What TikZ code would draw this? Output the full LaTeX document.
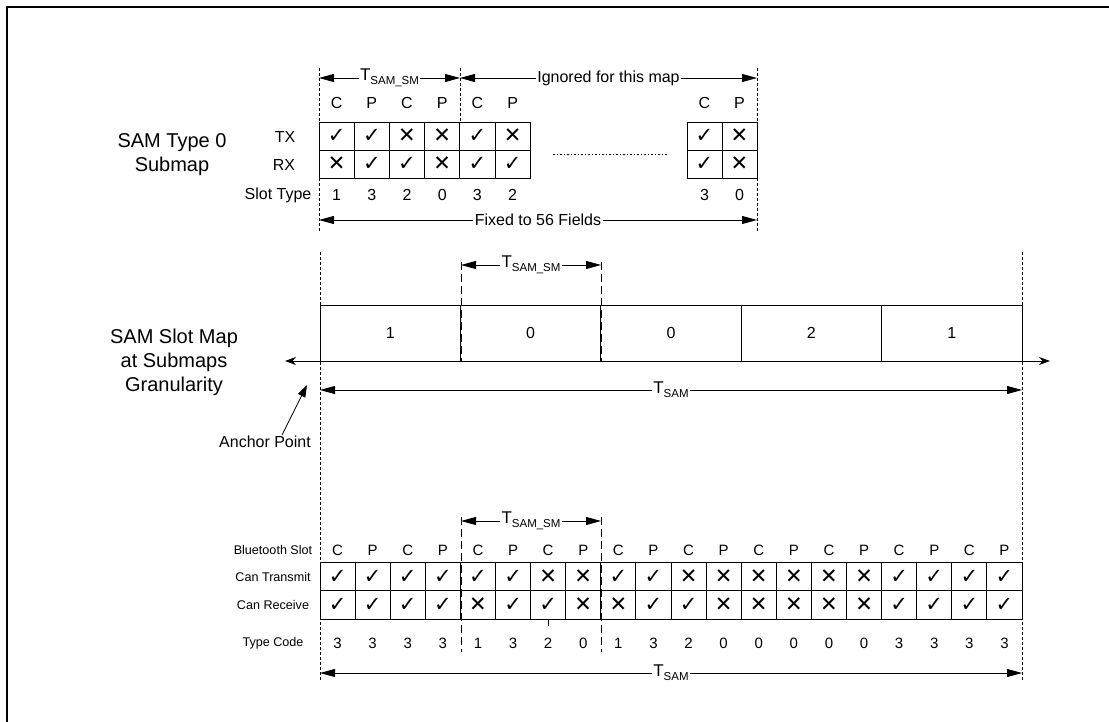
\documentclass[tikz,border=0pt]{standalone}
\usepackage{fontspec}
\setmainfont{Liberation Sans}
\newfontfamily\symfont{DejaVu Sans}
\usetikzlibrary{positioning,arrows.meta,calc}

\newcommand{\chk}{✓}
\newcommand{\crs}{✕}
\newcommand{\tsub}[1]{{\fontsize{17}{18}\selectfont T}\raisebox{-0.5ex}{\fontsize{11.5}{12}\selectfont #1}}

\begin{document}
\begin{tikzpicture}[x=1pt, y=-1pt,
  every node/.style={font=\fontsize{16}{19}\selectfont, inner sep=1pt},
  dim/.style={{Triangle[length=15pt,width=8pt]}-{Triangle[length=15pt,width=8pt]}, line width=0.8pt},
  guide/.style={dash pattern=on 3pt off 2pt, line width=0.7pt},
  bound/.style={dash pattern=on 8pt off 4pt, line width=0.9pt},
  cell/.style={draw, line width=0.9pt, minimum width=35.1pt, minimum height=28pt, inner sep=0pt,
    font=\symfont\bfseries\fontsize{21}{21}\selectfont},
  gap/.style={fill=white, inner sep=1.5pt},
  small/.style={font=\fontsize{12.6}{14}\selectfont},
  big/.style={font=\fontsize{20}{24}\selectfont, align=center}]
\useasboundingbox (0,0) rectangle (1109,722);
\draw[line width=2.5pt] (7,722) -- (7,7) -- (1109,7); % frame

% ---- SAM type 0 submap
\node[big] (subname) at (172,155) {SAM Type 0\\Submap};
\node (txl) at (285,137) {TX};
\node (rxl) at (284,165) {RX};
\node (stl) at (278,195) {Slot Type};

\coordinate (sa) at (319,68);  \coordinate (sb) at (319,232);
\coordinate (sc) at (460,68);  \coordinate (sd) at (460,122);
\coordinate (se) at (757,68);  \coordinate (sf) at (757,232);
\draw[guide] (sa) -- (sb);
\draw[guide] (sc) -- (sd);
\draw[guide] (se) -- (sf);
\draw[dim] (319,78) -- (460,78) node[midway, gap] (tsmA) {\tsub{SAM\_SM}};
\draw[dim] (460,78) -- (757,78) node[midway, gap] (ign) {Ignored for this map};

\foreach \a/\b/\c [count=\i] in {\chk/\crs/1, \chk/\chk/3, \crs/\chk/2, \crs/\crs/0, \chk/\chk/3, \crs/\chk/2} {
    \node (cp\i) at (319+35.2*\i-17.6,103) {\ifodd\i C\else P\fi};
    \node[cell] (tx\i) at (319+35.2*\i-17.6,136) {\a}; % tx row
    \node[cell] (rx\i) at (319+35.2*\i-17.6,164) {\b}; % rx row
    \node (st\i) at (319+35.2*\i-17.6,195) {\c};
}
\node (cpy) at (704.5,103) {C};
\node (cpz) at (739.5,103) {P};
\node[cell] (txy) at (704.5,136) {\chk};
\node[cell] (txz) at (739.5,136) {\crs};
\node[cell] (rxy) at (704.5,164) {\chk};
\node[cell] (rxz) at (739.5,164) {\crs};
\node (sty) at (704.5,195) {3};
\node (stz) at (739.5,195) {0};
\draw[dash pattern=on 1.5pt off 2pt, line width=0.8pt] (553,154) -- (667,154);
\draw[dim] (319,220) -- (757,220) node[midway, gap] (fix) {Fixed to 56 Fields};

% ---- slot map at submap granularity
\node[big] (mapname) at (174,362) {SAM Slot Map\\at Submaps\\Granularity};
\coordinate (ga) at (320,252);  \coordinate (gb) at (320,680);
\coordinate (gc) at (1022,252); \coordinate (gd) at (1022,680);
\draw[guide] (ga) -- (gb);
\draw[guide] (gc) -- (gd);
\draw[bound] (461,262) -- (461,361);
\draw[bound] (601,262) -- (601,361);
\draw[dim] (461,265) -- (601,265) node[midway, gap] (tsmB) {\tsub{SAM\_SM}};
\foreach \v [count=\i] in {1,0,0,2,1} {
    \node[draw, line width=0.9pt, minimum width=140.4pt, minimum height=56pt, inner sep=0pt]
        (sm\i) at (320+140.4*\i-70.2,333) {\v};
}
\coordinate (axL) at (285,361);
\coordinate (axR) at (1050,361);
\draw[{Stealth[length=11pt,width=8pt]}-{Stealth[length=11pt,width=8pt]}, line width=0.9pt] (axL) -- (axR);
\draw[dim] (320,390) -- (1022,390) node[pos=0.5, gap] (tsamA) {\tsub{SAM}};
\node (anchor) at (265,442) {Anchor Point};
\coordinate (anc) at (307,385);
\draw[-{Triangle[length=12pt,width=8pt]}, line width=0.8pt] ([xshift=-30pt]anchor.north east) -- (anc);

% ---- bluetooth slots
\node[small] (btl) at (273,550) {Bluetooth Slot};
\node[small] (ctl) at (273,577) {Can Transmit};
\node[small] (crl) at (273,605) {Can Receive};
\node[small] (tcl) at (273,643) {Type Code};
\draw[bound] (461,517) -- (461,652);
\draw[bound] (601,517) -- (601,652);
\draw[dim] (461,521) -- (601,521) node[midway, gap] (tsmC) {\tsub{SAM\_SM}};
\foreach \a/\b/\c [count=\i] in {\chk/\chk/3, \chk/\chk/3, \chk/\chk/3, \chk/\chk/3,
    \chk/\crs/1, \chk/\chk/3, \crs/\chk/2, \crs/\crs/0,
    \chk/\crs/1, \chk/\chk/3, \crs/\chk/2, \crs/\crs/0,
    \crs/\crs/0, \crs/\crs/0, \crs/\crs/0, \crs/\crs/0,
    \chk/\chk/3, \chk/\chk/3, \chk/\chk/3, \chk/\chk/3} {
    \node[font=\fontsize{15}{17}\selectfont] (bs\i) at (320+35.1*\i-17.55,550) {\ifodd\i C\else P\fi};
    \node[cell, minimum height=28.5pt] (ct\i) at (320+35.1*\i-17.55,576.5) {\a}; % transmit
    \node[cell, minimum height=28.5pt] (cr\i) at (320+35.1*\i-17.55,605) {\b}; % receive
    \node[font=\fontsize{15}{17}\selectfont] (tc\i) at (320+35.1*\i-17.55,643) {\c};
}
\draw[line width=0.6pt] (cr7.south) -- ++(0,6);
\draw[dim] (320,673) -- (1022,673) node[pos=0.5, gap] (tsamB) {\tsub{SAM}};
\end{tikzpicture}
\end{document}
